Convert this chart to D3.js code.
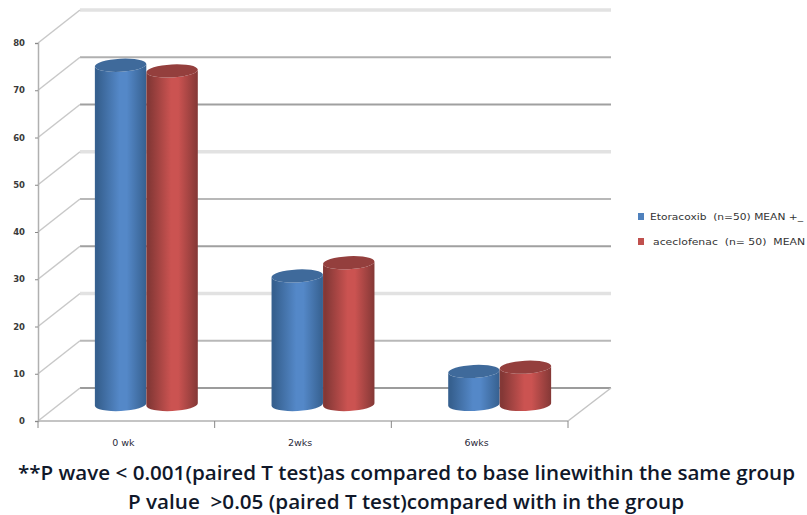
<!DOCTYPE html>
<html>
<head>
<meta charset="utf-8">
<script src="https://cdn.jsdelivr.net/npm/d3@7"></script>
<style>
html,body{margin:0;padding:0;background:#fff;overflow:hidden}
svg{display:block}
</style>
</head>
<body>
<svg id="chart" width="807" height="515"></svg>
<script>
const categories = ["0 wk", "2wks", "6wks"];
const seriesNames = ["Etoracoxib  (n=50) MEAN +_", "aceclofenac  (n= 50)  MEAN"];
const etoricoxibValues = [71.8, 27.2, 7.0];
const aceclofenacValues = [70.6, 30.0, 7.9];
const valueTicks = [0, 10, 20, 30, 40, 50, 60, 70, 80];
const footnotes = [
  "**P wave < 0.001(paired T test)as compared to base linewithin the same group",
  "P value  >0.05 (paired T test)compared with in the group"
];

const svg = d3.select("#chart");
const defs = svg.append("defs");

// Plot frame: front plane plus the offset of the back wall for the 3-D look.
const frontLeft = 38, frontRight = 568, floorY = 421, topY = 43;
const depthX = 42, depthY = -33;

const x = d3.scaleBand().domain(categories).range([frontLeft, frontRight]);
const y = d3.scaleLinear().domain([0, 80]).range([floorY, topY]);

const seriesStyles = [
  {id: "blueBody", edge: "#36608f", mid: "#5488c8", top: "#3f6a9b", swatch: "#4f81bd"},
  {id: "redBody", edge: "#843836", mid: "#cb5351", top: "#943f3d", swatch: "#c0504d"}
];
seriesStyles.forEach(s => {
  const g = defs.append("linearGradient").attr("id", s.id);
  [[0, s.edge], [0.05, s.edge], [0.48, s.mid], [0.62, s.mid], [1, s.edge]].forEach(([o, c]) =>
    g.append("stop").attr("offset", o).attr("stop-color", c));
});

// Gridlines on the back wall and their diagonals on the side wall.
const gridColors = ["#9c9c9c", "#b8b8b8", "#e2e2e2", "#a0a0a0", "#b8b8b8", "#e2e2e2", "#a0a0a0", "#b0b0b0", "#e2e2e2"];
const gridWidths = [2, 2, 3.5, 2, 2, 3.5, 2, 2, 3.5];

const grid = svg.append("g");
grid.selectAll("line.back").data(valueTicks).join("line")
  .attr("class", "back")
  .attr("x1", frontLeft + depthX).attr("x2", frontRight + depthX + 1)
  .attr("y1", d => y(d) + depthY).attr("y2", d => y(d) + depthY)
  .attr("stroke", (d, i) => gridColors[i])
  .attr("stroke-width", (d, i) => gridWidths[i]);
grid.selectAll("line.side").data(valueTicks).join("line")
  .attr("class", "side")
  .attr("x1", frontLeft).attr("x2", frontLeft + depthX)
  .attr("y1", d => y(d)).attr("y2", d => y(d) + depthY)
  .attr("stroke", "#c8c8c8").attr("stroke-width", 1.5);

// Floor edges.
svg.append("line").attr("x1", frontRight).attr("x2", frontRight + depthX + 1)
  .attr("y1", floorY).attr("y2", floorY + depthY)
  .attr("stroke", "#c4c4c4").attr("stroke-width", 1.5);
svg.append("line").attr("x1", frontLeft).attr("x2", frontRight)
  .attr("y1", floorY).attr("y2", floorY)
  .attr("stroke", "#c4c4c4").attr("stroke-width", 2);

// Value axis.
const yAxis = svg.append("g").attr("transform", `translate(${frontLeft},0)`)
  .call(d3.axisLeft(y).tickValues(valueTicks).tickSize(3).tickPadding(10));
yAxis.select(".domain").attr("stroke", "#b0b0b0").attr("stroke-width", 1.5);
yAxis.selectAll(".tick line").attr("stroke", "#888");
yAxis.selectAll("text").attr("font-family", "'DejaVu Sans', sans-serif")
  .attr("font-size", 8.5).attr("font-weight", "bold").attr("fill", "#3a3a3a");

// Category axis: labels sit just left of the band centre, tick marks on the band edges.
const xAxis = svg.append("g").attr("transform", `translate(0,${floorY})`)
  .call(d3.axisBottom(x).tickSize(0).tickPadding(16));
xAxis.select(".domain").remove();
xAxis.selectAll("text").attr("font-family", "'DejaVu Sans', sans-serif")
  .attr("font-size", 9.5).attr("fill", "#2a2a3a").attr("dx", -3).attr("dy", "0.95em");
const edges = categories.map(c => x(c)).concat(frontRight);
xAxis.selectAll("line.edge").data(edges).join("line")
  .attr("class", "edge")
  .attr("x1", d => d).attr("x2", d => d)
  .attr("y1", 0).attr("y2", 7)
  .attr("stroke", "#888").attr("stroke-width", 1);

// Cylinders sit half way into the depth of the floor.
const barWidth = 51.5, radiusY = 6.5, tiltDeg = -3;
const tilt = tiltDeg * Math.PI / 180;
const baseY = floorY + depthY / 2;
const shiftX = depthX / 2 - 1;

function cylinderBody(cx, topCy, rx) {
  const dx = rx * Math.cos(tilt), dy = rx * Math.sin(tilt);
  return `M${cx - dx},${topCy - dy}` +
    `L${cx - dx},${baseY - dy}` +
    `A${rx},${radiusY} ${tiltDeg} 0 0 ${cx + dx},${baseY + dy}` +
    `L${cx + dx},${topCy + dy}` +
    `A${rx},${radiusY} ${tiltDeg} 0 1 ${cx - dx},${topCy - dy}Z`;
}

[etoricoxibValues, aceclofenacValues].forEach((values, si) => {
  const style = seriesStyles[si];
  const g = svg.append("g");
  const centre = i => x(categories[i]) + x.bandwidth() / 2 + shiftX + (si === 0 ? -barWidth / 2 : barWidth / 2);
  g.selectAll("path").data(values).join("path")
    .attr("d", (v, i) => cylinderBody(centre(i), y(v) + depthY / 2, barWidth / 2))
    .attr("fill", `url(#${style.id})`);
  g.selectAll("ellipse").data(values).join("ellipse")
    .attr("rx", barWidth / 2).attr("ry", radiusY)
    .attr("transform", (v, i) => `translate(${centre(i)},${y(v) + depthY / 2}) rotate(${tiltDeg})`)
    .attr("fill", style.top);
});

// Legend, reaching right up to the page edge.
const legend = svg.append("g");
seriesNames.forEach((name, i) => {
  const ly = [216.5, 241.5][i];
  legend.append("rect").attr("x", 638).attr("y", ly - 3.5).attr("width", 6).attr("height", 7)
    .attr("fill", seriesStyles[i].swatch);
  legend.append("text").attr("x", i === 0 ? 650 : 653).attr("y", ly + 3)
    .attr("textLength", i === 0 ? 153 : 152).attr("lengthAdjust", "spacingAndGlyphs")
    .attr("font-family", "'DejaVu Sans', sans-serif").attr("font-size", 8)
    .attr("fill", "#333").style("white-space", "pre").text(name);
});

// Notes under the chart.
const noteBoxes = [[18, 777, 480], [128, 556, 509]];
footnotes.forEach((t, i) => {
  svg.append("text")
    .attr("x", noteBoxes[i][0]).attr("y", noteBoxes[i][2])
    .attr("textLength", noteBoxes[i][1]).attr("lengthAdjust", "spacingAndGlyphs")
    .attr("font-family", "'Open Sans', sans-serif").attr("font-size", 20)
    .attr("font-weight", 600).attr("fill", "#10182a")
    .style("white-space", "pre").text(t);
});
</script>
</body>
</html>
